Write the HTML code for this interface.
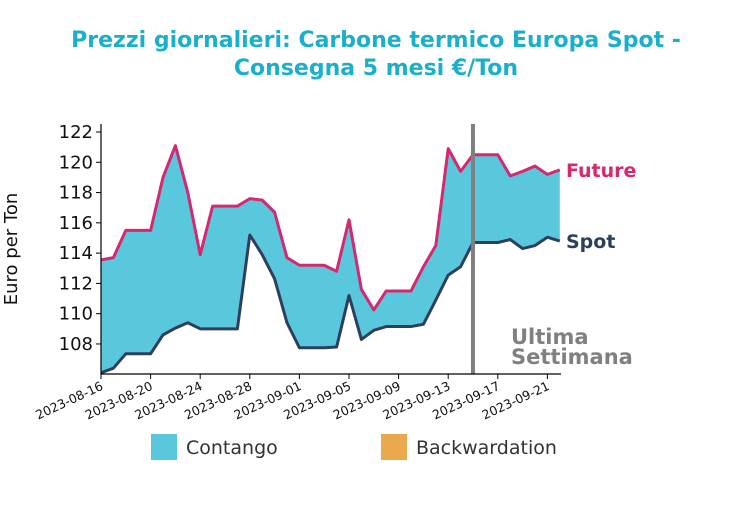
<!DOCTYPE html>
<html><head><meta charset="utf-8"><style>
body{margin:0;background:#fff;width:752px;height:504px;overflow:hidden;font-family:"Liberation Sans","DejaVu Sans",sans-serif}
</style></head><body>
<svg width="752" height="504" font-family="DejaVu Sans, Liberation Sans, sans-serif">
<text x="376" y="47" text-anchor="middle" font-size="22" font-weight="bold" fill="#1ab0cc">Prezzi giornalieri: Carbone termico Europa Spot -</text>
<text x="376" y="75" text-anchor="middle" font-size="22" font-weight="bold" fill="#1ab0cc">Consegna 5 mesi €/Ton</text>
<text transform="translate(17,249) rotate(-90)" text-anchor="middle" font-size="18" fill="#111">Euro per Ton</text>
<g id="plot"></g>
<rect x="151" y="434" width="26" height="26" fill="#5ac8dc"/>
<text x="186" y="454" font-size="19" fill="#333">Contango</text>
<rect x="381" y="434" width="26" height="26" fill="#eba94d"/>
<text x="416" y="454" font-size="19" fill="#333">Backwardation</text>
</svg>
<script>
const startDate = "2023-08-16";
const futureValues = [113.55,113.7,115.5,115.5,115.5,119.0,121.1,118.0,113.9,117.1,117.1,117.1,117.6,117.5,116.7,113.7,113.2,113.2,113.2,112.8,116.2,111.6,110.25,111.5,111.5,111.5,113.1,114.5,120.9,119.4,120.5,120.5,120.5,119.1,119.4,119.75,119.2,119.5];
const spotValues = [106.1,106.4,107.35,107.35,107.35,108.6,109.05,109.4,109.0,109.0,109.0,109.0,115.2,113.9,112.3,109.4,107.75,107.75,107.75,107.8,111.2,108.3,108.9,109.15,109.15,109.15,109.3,110.9,112.55,113.1,114.7,114.7,114.7,114.9,114.3,114.5,115.05,114.8];
const yTicks = [108,110,112,114,116,118,120,122];
const xTickDays = [0,4,8,12,16,20,24,28,32,36];
const lastWeekDay = 30;

const X0=101, DX=12.4, L=101, R=561, T=124, B=374;
const xs = d => X0 + d*DX;
const ys = v => 132 + (122 - v)*15.14;
const NS="http://www.w3.org/2000/svg";
const g=document.getElementById('plot');
function mk(tag,attrs){const e=document.createElementNS(NS,tag);for(const k in attrs)e.setAttribute(k,attrs[k]);g.appendChild(e);return e;}
function dateLabel(d){const dt=new Date(startDate+"T00:00:00Z");dt.setUTCDate(dt.getUTCDate()+d);return dt.toISOString().slice(0,10);}

let fp=futureValues.map((v,i)=>xs(i)+','+ys(v));
let sp=spotValues.map((v,i)=>xs(i)+','+ys(v));
const area=mk('polygon',{points:fp.concat(sp.slice().reverse()).join(' '),fill:'#5ac8dc'});


const sl=mk('polyline',{points:sp.join(' '),fill:'none',stroke:'#2e3f5e','stroke-width':3,'stroke-linejoin':'round'});


const fl=mk('polyline',{points:fp.join(' '),fill:'none',stroke:'#d6286e','stroke-width':3,'stroke-linejoin':'round'});


const vl=mk('line',{x1:xs(lastWeekDay),x2:xs(lastWeekDay),y1:T,y2:B,stroke:'#808080','stroke-width':4});


const ax=mk('path',{d:`M${L},${T}V${B}H${R}`,fill:'none',stroke:'#000','stroke-width':1.2});


yTicks.forEach(v=>{
  const t=mk('line',{x1:L-5,x2:L,y1:ys(v),y2:ys(v),stroke:'#000'});
  
  
  const tx=mk('text',{x:L-8,y:ys(v)+6,'text-anchor':'end','font-size':18,fill:'#111'});
  tx.textContent=v;
  
  
});
xTickDays.forEach(d=>{
  const t=mk('line',{x1:xs(d),x2:xs(d),y1:B,y2:B+5,stroke:'#000'});
  
  
  const tx=mk('text',{transform:`translate(${xs(d)+3},${B+15}) rotate(-25)`,'text-anchor':'end','font-size':12.5,fill:'#111'});
  tx.textContent=dateLabel(d);
  
  
});
const n=futureValues.length-1;
const fLab=mk('text',{x:566,y:ys(futureValues[n])+7,'font-size':19,'font-weight':'bold',fill:'#d6286e'});
fLab.textContent='Future';


const sLab=mk('text',{x:566,y:ys(spotValues[n])+7,'font-size':19,'font-weight':'bold',fill:'#2e3f5e'});
sLab.textContent='Spot';


const u1=mk('text',{x:511,y:344,'font-size':21,'font-weight':'bold',fill:'#808080'});
u1.textContent='Ultima';


const u2=mk('text',{x:511,y:364,'font-size':21,'font-weight':'bold',fill:'#808080'});
u2.textContent='Settimana';


</script>
</body></html>
